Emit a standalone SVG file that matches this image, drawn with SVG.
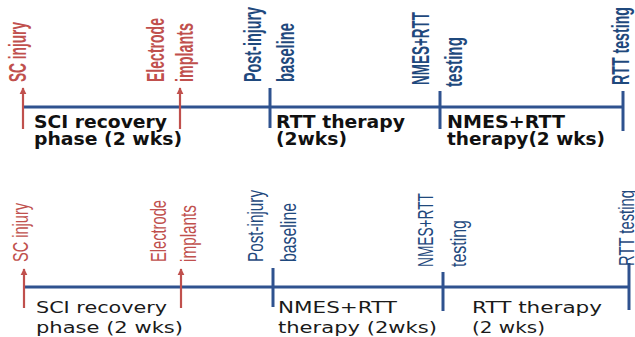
<svg xmlns="http://www.w3.org/2000/svg" width="635" height="337" viewBox="0 0 635 337">
<defs>
<marker id="ah" viewBox="0 0 10 10" refX="9" refY="5" markerWidth="3.2" markerHeight="3.2" orient="auto" markerUnits="strokeWidth">
<path d="M0,0 L10,5 L0,10 z" fill="#C0504D"/>
</marker>
<style>
.axis{stroke:#2F528F;stroke-width:3;fill:none}
.tick{stroke:#2F528F;stroke-width:3;fill:none}
.arr{stroke:#C0504D;stroke-width:2.2;fill:none;marker-end:url(#ah)}
.vt{font-family:"Liberation Sans",Arial,sans-serif;font-size:24px;font-weight:bold}
.vb{font-family:"Liberation Sans",Arial,sans-serif;font-size:22px;font-weight:normal}
.red{fill:#C0504D}
.blue{fill:#1F497D}
.pt{font-family:"DejaVu Sans",Verdana,sans-serif;font-size:17px;font-weight:bold;fill:#111}
.pb{font-family:"DejaVu Sans",Verdana,sans-serif;font-size:16px;font-weight:normal;fill:#1a1a1a}
</style>
</defs>

<g id="connectors">
<line class="axis" x1="23" y1="107" x2="623" y2="107"/>
<line class="arr" x1="23" y1="129" x2="23" y2="88"/>
<line class="arr" x1="180" y1="129" x2="180" y2="88"/>
<line class="tick" x1="270" y1="88" x2="270" y2="128"/>
<line class="tick" x1="440" y1="91" x2="440" y2="129"/>
<line class="tick" x1="623" y1="91" x2="623" y2="131"/>

<line class="axis" x1="24" y1="287" x2="629" y2="287"/>
<line class="arr" x1="24" y1="308" x2="24" y2="269"/>
<line class="arr" x1="181" y1="308" x2="181" y2="269"/>
<line class="tick" x1="273" y1="268" x2="273" y2="307"/>
<line class="tick" x1="443" y1="272" x2="443" y2="311"/>
<line class="tick" x1="629" y1="263" x2="629" y2="310"/>
</g>

<g id="top-sc-injury"><text class="vt red" transform="translate(26,82) rotate(-90)" textLength="60" lengthAdjust="spacingAndGlyphs">SC injury</text></g>
<g id="top-electrode"><text class="vt red" transform="translate(164,82) rotate(-90)" textLength="64" lengthAdjust="spacingAndGlyphs">Electrode</text><text class="vt red" transform="translate(193,82) rotate(-90)" textLength="59" lengthAdjust="spacingAndGlyphs">implants</text></g>
<g id="top-baseline"><text class="vt blue" transform="translate(261,82) rotate(-90)" textLength="75" lengthAdjust="spacingAndGlyphs">Post-injury</text><text class="vt blue" transform="translate(294,82) rotate(-90)" textLength="59" lengthAdjust="spacingAndGlyphs">baseline</text></g>
<g id="top-nmes-testing"><text class="vt blue" transform="translate(429,85) rotate(-90)" textLength="73" lengthAdjust="spacingAndGlyphs">NMES+RTT</text><text class="vt blue" transform="translate(462,87) rotate(-90)" textLength="50" lengthAdjust="spacingAndGlyphs">testing</text></g>
<g id="top-rtt-testing"><text class="vt blue" transform="translate(629,85) rotate(-90)" textLength="78" lengthAdjust="spacingAndGlyphs">RTT testing</text></g>

<g id="top-recovery"><text class="pt" x="34" y="128" textLength="133" lengthAdjust="spacingAndGlyphs">SCI recovery</text><text class="pt" x="34" y="145" textLength="148" lengthAdjust="spacingAndGlyphs">phase (2 wks)</text></g>
<g id="top-rtt-therapy"><text class="pt" x="276" y="128" textLength="129" lengthAdjust="spacingAndGlyphs">RTT therapy</text><text class="pt" x="276" y="145" textLength="71" lengthAdjust="spacingAndGlyphs">(2wks)</text></g>
<g id="top-nmes-therapy"><text class="pt" x="447" y="128" textLength="118" lengthAdjust="spacingAndGlyphs">NMES+RTT</text><text class="pt" x="447" y="145" textLength="158" lengthAdjust="spacingAndGlyphs">therapy(2 wks)</text></g>

<g id="bot-sc-injury"><text class="vb red" transform="translate(28,262) rotate(-90)" textLength="59" lengthAdjust="spacingAndGlyphs">SC injury</text></g>
<g id="bot-electrode"><text class="vb red" transform="translate(166,262) rotate(-90)" textLength="62" lengthAdjust="spacingAndGlyphs">Electrode</text><text class="vb red" transform="translate(196,262) rotate(-90)" textLength="57" lengthAdjust="spacingAndGlyphs">implants</text></g>
<g id="bot-baseline"><text class="vb blue" transform="translate(263,262) rotate(-90)" textLength="72" lengthAdjust="spacingAndGlyphs">Post-injury</text><text class="vb blue" transform="translate(296,262) rotate(-90)" textLength="59" lengthAdjust="spacingAndGlyphs">baseline</text></g>
<g id="bot-nmes-testing"><text class="vb blue" transform="translate(433,267) rotate(-90)" textLength="74" lengthAdjust="spacingAndGlyphs">NMES+RTT</text><text class="vb blue" transform="translate(466,267) rotate(-90)" textLength="47" lengthAdjust="spacingAndGlyphs">testing</text></g>
<g id="bot-rtt-testing"><text class="vb blue" transform="translate(634,266) rotate(-90)" textLength="76" lengthAdjust="spacingAndGlyphs">RTT testing</text></g>

<g id="bot-recovery"><text class="pb" x="36" y="313" textLength="131" lengthAdjust="spacingAndGlyphs">SCI recovery</text><text class="pb" x="36" y="333" textLength="147" lengthAdjust="spacingAndGlyphs">phase (2 wks)</text></g>
<g id="bot-nmes-therapy"><text class="pb" x="278" y="313" textLength="119" lengthAdjust="spacingAndGlyphs">NMES+RTT</text><text class="pb" x="278" y="333" textLength="159" lengthAdjust="spacingAndGlyphs">therapy (2wks)</text></g>
<g id="bot-rtt-therapy"><text class="pb" x="472" y="313" textLength="130" lengthAdjust="spacingAndGlyphs">RTT therapy</text><text class="pb" x="472" y="333" textLength="73" lengthAdjust="spacingAndGlyphs">(2 wks)</text></g>
</svg>
